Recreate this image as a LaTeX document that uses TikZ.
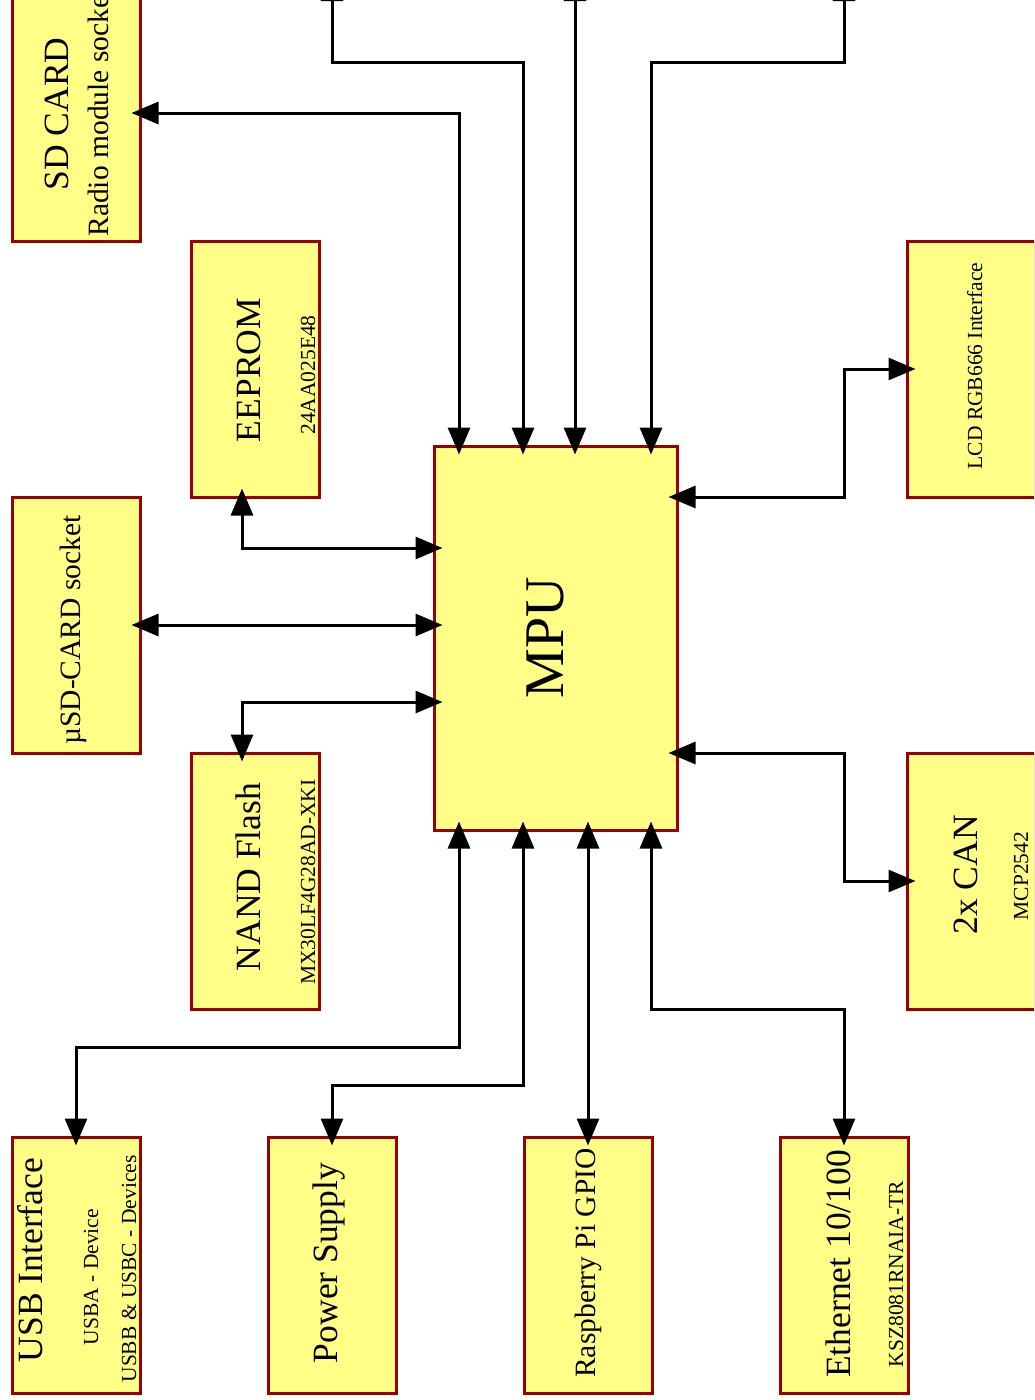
\documentclass[tikz,border=0pt]{standalone}
\usepackage{fontspec}
\setmainfont{Liberation Serif}
\usetikzlibrary{arrows.meta,calc}
\definecolor{boxyel}{HTML}{FFFF88}
\definecolor{boxred}{HTML}{990000}
\begin{document}
\begin{tikzpicture}[x=1pt,y=-1pt,
  blk/.style={draw=boxred,fill=boxyel,line width=3pt,minimum width=128pt,minimum height=256pt,inner sep=0pt},
  lbl/.style={rotate=90,anchor=base,inner sep=0pt},
  bigtxt/.style={lbl,font=\fontsize{35.5}{40}\selectfont},
  midtxt/.style={lbl,font=\fontsize{29.5}{34}\selectfont},
  smalltxt/.style={lbl,font=\fontsize{21.5}{25}\selectfont},
  link/.style={line width=3pt,{Triangle[length=27pt,width=22pt]}-{Triangle[length=27pt,width=22pt]},shorten <=-10pt,shorten >=-10pt}]
\useasboundingbox (0,0) rectangle (1034,1400);
\clip (0,0) rectangle (1034,1400);
% boxes
\node[blk] (sd) at (76,113){};\node[blk] (eeprom) at (255,369){};\node[blk] (usd) at (76,625){};\node[blk] (nand) at (255,881){};
\node[blk] (usb) at (76,1265){};\node[blk] (pwr) at (332,1265){};\node[blk] (rpi) at (588,1265){};\node[blk] (eth) at (844,1265){};
\node[blk] (lcd) at (971,369){};\node[blk] (can) at (971,881){};
\node[blk,minimum width=243pt,minimum height=384pt] (mpu) at (555.5,638){};
% labels
\node[bigtxt] (sdT) at ($(sd)+(-8,1)$){SD CARD};\node[midtxt] (sdS) at ($(sd)+(32,-1)$){Radio module socket};
\node[bigtxt] (eepromT) at ($(eeprom)+(5,1)$){EEPROM};\node[smalltxt] (eepromS) at ($(eeprom)+(60,6)$){24AA025E48};
\node[midtxt] (usdT) at ($(usd)+(4,5)$){µSD-CARD socket};
\node[bigtxt] (nandT) at ($(nand)+(5,-4)$){NAND Flash};\node[smalltxt] (nandS) at ($(nand)+(60,1)$){MX30LF4G28AD-XKI};
\node[bigtxt] (usbT) at ($(usb)+(-34,-5)$){USB Interface};\node[smalltxt] (usbA) at ($(usb)+(22,12)$){USBA - Device};\node[smalltxt] (usbB) at ($(usb)+(60,4)$){USBB \& USBC - Devices};
\node[bigtxt] (pwrT) at ($(pwr)+(5,-2)$){Power Supply};
\node[midtxt] (rpiT) at ($(rpi)+(7,-2)$){Raspberry Pi GPIO};
\node[bigtxt] (ethT) at ($(eth)+(6,-1)$){Ethernet 10/100};\node[smalltxt] (ethS) at ($(eth)+(59,9)$){KSZ8081RNAIA-TR};
\node[smalltxt] (lcdT) at ($(lcd)+(11,-3)$){LCD RGB666 Interface};
\node[bigtxt] (canT) at ($(can)+(6,-6)$){2x CAN};\node[smalltxt] (canS) at ($(can)+(57,-5)$){MCP2542};
\node[lbl,font=\fontsize{56}{60}\selectfont] (mpuT) at ($(mpu)+(7.5,0)$){MPU};
% buses
\coordinate (up1) at (332,-16);\coordinate (up2) at (575,-16);\coordinate (up3) at (844,-16);
\draw[link] (sd.east) -| (mpu.north -| 459,0);
\draw[link] (up1) |- (523,62) -- (mpu.north -| 523,0);
\draw[link] (up2) -- (mpu.north -| up2);
\draw[link] (up3) |- (651,62) -- (mpu.north -| 651,0);
\draw[link] (mpu.east |- 0,497) -| (844,369) -- (lcd.west);
\draw[link] (mpu.east |- 0,753) -| (844,881) -- (can.west);
\draw[link] (eeprom.south -| 242,0) |- (mpu.west |- 0,548);
\draw[link] (usd.east) -- (mpu.west |- usd.east);
\draw[link] (mpu.west |- 0,702) -| (nand.north -| 242,0);
\draw[link] (mpu.south -| 459,0) |- (usb.north |- 0,1047) -- (usb.north);
\draw[link] (mpu.south -| 523,0) |- (pwr.north |- 0,1085) -- (pwr.north);
\draw[link] (mpu.south -| rpi.north) -- (rpi.north);
\draw[link] (mpu.south -| 651,0) |- (eth.north |- 0,1009) -- (eth.north);
\end{tikzpicture}
\end{document}
